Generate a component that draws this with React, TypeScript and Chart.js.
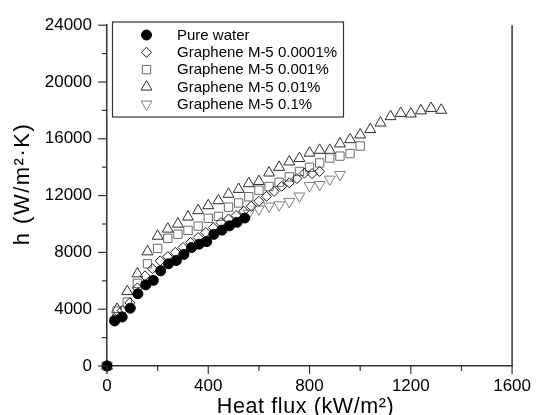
import React, { useEffect, useRef } from 'react';
import { Chart, registerables } from 'chart.js';

Chart.register(...registerables);

// ---- data ----
const seriesLabels = [
  'Pure water',
  'Graphene M-5 0.0001%',
  'Graphene M-5 0.001%',
  'Graphene M-5 0.01%',
  'Graphene M-5 0.1%',
];

const pureWaterX = [0, 30, 60, 92, 122, 153, 183, 212, 243, 274, 304, 334, 364, 394, 422, 454, 484, 514, 544];
const pureWaterY = [0, 3170, 3450, 4070, 5090, 5710, 6030, 6700, 7200, 7430, 7860, 8340, 8580, 8760, 9270, 9570, 9870, 10120, 10420];

const g0001X = [0, 30, 60, 90, 120, 150, 180, 210, 240, 270, 300, 330, 360, 390, 420, 450, 480, 510, 540, 570, 600, 630, 660, 690, 720, 750, 780, 810, 840];
const g0001Y = [0, 3350, 3900, 4450, 5500, 6350, 6850, 7400, 7700, 8000, 8350, 8700, 9050, 9400, 9750, 10100, 10350, 10600, 10900, 11250, 11600, 11950, 12300, 12650, 12900, 13200, 13580, 13550, 13700];

const g001X = [0, 40, 80, 120, 160, 200, 240, 280, 320, 360, 400, 440, 480, 520, 560, 600, 640, 680, 720, 760, 800, 840, 880, 920, 960, 1000];
const g001Y = [0, 3870, 4500, 5820, 7200, 8280, 8990, 9280, 9550, 9850, 10400, 10540, 11180, 11480, 11920, 12380, 12640, 12940, 13320, 13700, 13990, 14300, 14650, 14780, 14960, 15490];

const g01X = [0, 40, 80, 120, 160, 200, 240, 280, 320, 360, 400, 440, 480, 520, 560, 600, 640, 680, 720, 760, 800, 840, 880, 920, 960, 1000, 1040, 1080, 1120, 1160, 1200, 1240, 1280, 1320];
const g01Y = [0, 4000, 5250, 6500, 8050, 9150, 9650, 10000, 10500, 10950, 11300, 11650, 12100, 12450, 12850, 13000, 13600, 14000, 14380, 14620, 15000, 15200, 15200, 15650, 15950, 16280, 16660, 17120, 17570, 17800, 17760, 17980, 18150, 18020];

const g1X = [0, 560, 600, 640, 680, 720, 760, 800, 840, 880, 920];
const g1Y = [0, 10750, 11050, 11250, 11340, 11580, 11960, 12700, 12770, 13150, 13480];

const xTickValues = [0, 400, 800, 1200, 1600];
const yTickValues = [0, 4000, 8000, 12000, 16000, 20000, 24000];

const xTitle = 'Heat flux (kW/m²)';
const yTitle = 'h (W/m²·K)';

// ---- styles ----
const FONT = '"Liberation Sans", Arial, Helvetica, sans-serif';
const styles = [
  { pointStyle: 'circle', radius: 5, rotation: 0, color: '#000000', fill: '#000000' },
  { pointStyle: 'rectRot', radius: 5, rotation: 0, color: '#1a1a1a', fill: 'rgba(0,0,0,0)' },
  { pointStyle: 'rect', radius: 5.9, rotation: 0, color: '#6a6a6a', fill: 'rgba(0,0,0,0)' },
  { pointStyle: 'triangle', radius: 6.3, rotation: 0, color: '#2e2e2e', fill: 'rgba(0,0,0,0)' },
  { pointStyle: 'triangle', radius: 6.3, rotation: 180, color: '#808080', fill: 'rgba(0,0,0,0)' },
];

const xsList = [pureWaterX, g0001X, g001X, g01X, g1X];
const ysList = [pureWaterY, g0001Y, g001Y, g01Y, g1Y];

function drawMarker(ctx: CanvasRenderingContext2D, s: any, x: number, y: number) {
  const r = s.radius;
  ctx.beginPath();
  if (s.pointStyle === 'circle') {
    ctx.arc(x, y, r, 0, Math.PI * 2);
  } else if (s.pointStyle === 'rectRot') {
    ctx.moveTo(x - r, y);
    ctx.lineTo(x, y - r);
    ctx.lineTo(x + r, y);
    ctx.lineTo(x, y + r);
    ctx.closePath();
  } else if (s.pointStyle === 'rect') {
    const h = r * Math.SQRT1_2;
    ctx.rect(x - h, y - h, 2 * h, 2 * h);
  } else {
    let a = (s.rotation * Math.PI) / 180;
    ctx.moveTo(x + Math.sin(a) * r, y - Math.cos(a) * r);
    a += (2 * Math.PI) / 3;
    ctx.lineTo(x + Math.sin(a) * r, y - Math.cos(a) * r);
    a += (2 * Math.PI) / 3;
    ctx.lineTo(x + Math.sin(a) * r, y - Math.cos(a) * r);
    ctx.closePath();
  }
  ctx.fillStyle = s.fill;
  ctx.fill();
  ctx.lineWidth = 1;
  ctx.strokeStyle = s.color;
  ctx.stroke();
}

const decorPlugin = {
  id: 'decor',
  afterDraw(chart: any) {
    const ctx: CanvasRenderingContext2D = chart.ctx;
    const { left, right, top, bottom } = chart.chartArea;
    const xs = chart.scales.x;
    const ys = chart.scales.y;
    ctx.save();
    ctx.strokeStyle = '#333333';
    ctx.lineWidth = 1.5;
    // right border
    ctx.beginPath();
    ctx.moveTo(right, top);
    ctx.lineTo(right, bottom);
    ctx.stroke();
    // tick marks
    ctx.lineWidth = 1.2;
    xs.ticks.forEach((t: any) => {
      const px = xs.getPixelForValue(t.value);
      const len = xTickValues.includes(t.value) ? 8 : 5;
      ctx.beginPath();
      ctx.moveTo(px, bottom);
      ctx.lineTo(px, bottom + len);
      ctx.stroke();
    });
    ys.ticks.forEach((t: any) => {
      const py = ys.getPixelForValue(t.value);
      const len = yTickValues.includes(t.value) ? 9 : 5;
      ctx.beginPath();
      ctx.moveTo(left - len, py);
      ctx.lineTo(left, py);
      ctx.stroke();
    });
    // axis titles
    ctx.fillStyle = '#000';
    ctx.font = `21.5px ${FONT}`;
    ctx.textAlign = 'center';
    ctx.textBaseline = 'alphabetic';
    (ctx as any).letterSpacing = '0.6px';
    ctx.fillText(xTitle, (left + right) / 2 - 4, 413);
    ctx.save();
    ctx.font = `22px ${FONT}`;
    (ctx as any).letterSpacing = '1.5px';
    ctx.translate(29, 184);
    ctx.rotate(-Math.PI / 2);
    ctx.fillText(yTitle, 0, 0);
    ctx.restore();
    (ctx as any).letterSpacing = '0px';
    // legend
    const bx = 112.5, by = 22, bw = 231, bh = 95;
    ctx.lineWidth = 1.2;
    ctx.strokeStyle = '#333333';
    ctx.strokeRect(bx, by, bw, bh);
    ctx.font = `15px ${FONT}`;
    ctx.textAlign = 'left';
    ctx.textBaseline = 'middle';
    seriesLabels.forEach((lab, i) => {
      const yy = 35 + i * 17.3;
      drawMarker(ctx, styles[i], 146.5, yy);
      ctx.fillStyle = '#000';
      ctx.fillText(lab, 177, yy + 0.5);
    });
    ctx.restore();
  },
};

export default function App() {
  const ref = useRef<HTMLCanvasElement>(null);
  useEffect(() => {
    const datasets = seriesLabels.map((label, i) => ({
      label,
      data: xsList[i].map((x, j) => ({ x, y: ysList[i][j] })),
      showLine: false,
      pointStyle: styles[i].pointStyle as any,
      pointRadius: styles[i].radius,
      pointRotation: styles[i].rotation,
      pointBorderWidth: 1,
      borderColor: styles[i].color,
      backgroundColor: styles[i].fill,
      pointBorderColor: styles[i].color,
      pointBackgroundColor: styles[i].fill,
      clip: false as any,
    }));
    const chart = new Chart(ref.current!, {
      type: 'scatter',
      data: { datasets },
      options: {
        responsive: false,
        animation: false,
        devicePixelRatio: 1,
        layout: { padding: { left: 0, right: 28, top: 18, bottom: 0 } },
        plugins: { legend: { display: false }, tooltip: { enabled: false } },
        scales: {
          x: {
            type: 'linear',
            min: 0,
            max: 1600,
            afterFit: (s: any) => { s.height = 49; },
            grid: { display: true, drawOnChartArea: false, drawTicks: false },
            border: { display: true, color: '#333333', width: 1.5 },
            ticks: {
              stepSize: 200,
              autoSkip: false,
              maxRotation: 0,
              padding: 10,
              color: '#000',
              font: { family: FONT, size: 17 },
              callback: (v: any) => (xTickValues.includes(Number(v)) ? String(v) : ''),
            },
          },
          y: {
            type: 'linear',
            min: 0,
            max: 24000,
            afterFit: (s: any) => { s.width = 107; },
            grid: { display: true, drawOnChartArea: false, drawTicks: false },
            border: { display: true, color: '#333333', width: 1.5 },
            ticks: {
              stepSize: 2000,
              autoSkip: false,
              padding: 15,
              color: '#000',
              font: { family: FONT, size: 17 },
              callback: (v: any) => (yTickValues.includes(Number(v)) ? String(v) : ''),
            },
          },
        },
      },
      plugins: [decorPlugin],
    });
    return () => chart.destroy();
  }, []);
  return (
    <div style={{ position: 'absolute', left: 0, top: 0, width: 541, height: 415, background: '#fff' }}>
      <canvas ref={ref} width={541} height={415} style={{ width: 541, height: 415 }} />
    </div>
  );
}
